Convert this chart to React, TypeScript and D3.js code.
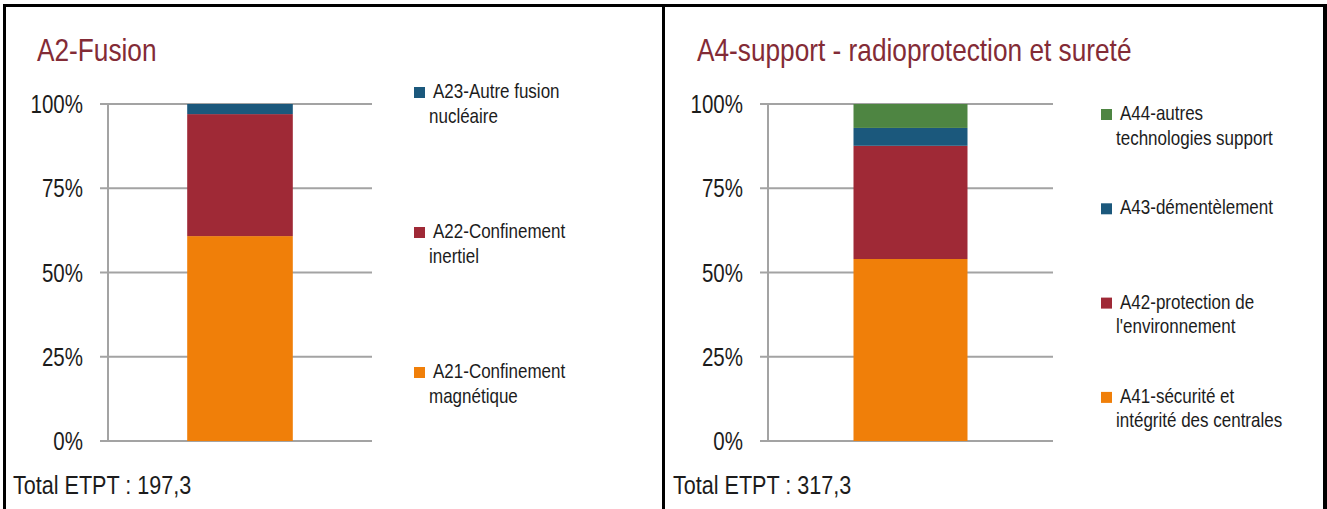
import React from "react";
import * as d3 from "d3";

// A2 - Fusion (shares of total ETPT, bottom to top)
const fusionKeys = ["A21", "A22", "A23"];
const fusionLabels = [
  ["A21-Confinement", "magnétique"],
  ["A22-Confinement", "inertiel"],
  ["A23-Autre fusion", "nucléaire"],
];
const fusionShares = [60.8, 36.2, 3.0];
const fusionTotal = "Total ETPT : 197,3";

// A4 - support
const supportKeys = ["A41", "A42", "A43", "A44"];
const supportLabels = [
  ["A41-sécurité et", "intégrité des centrales"],
  ["A42-protection de", "l'environnement"],
  ["A43-démentèlement"],
  ["A44-autres", "technologies support"],
];
const supportShares = [54.0, 33.6, 5.3, 7.1];
const supportTotal = "Total ETPT : 317,3";

const seriesColors = ["#F07F09", "#9F2936", "#1B587C", "#4E8542"];
const percentTicks = [0, 0.25, 0.5, 0.75, 1];

// no narrow font installed: squeeze Liberation Sans horizontally
const FONT = "'Liberation Sans', Arial, sans-serif";
const GRID = "#a3a3a3";
const INK = "#1c1c1c";

function NText(props: {
  x: number;
  y: number;
  size: number;
  squeeze?: number;
  fill?: string;
  anchor?: string;
  dy?: string;
  children: React.ReactNode;
}) {
  return (
    <text
      transform={`translate(${props.x},${props.y}) scale(${props.squeeze || 0.82},1)`}
      fontSize={props.size}
      fill={props.fill || INK}
      textAnchor={props.anchor || "start"}
      dy={props.dy}
    >
      {props.children}
    </text>
  );
}

type PanelProps = {
  title: string;
  keys: string[];
  labels: string[][];
  shares: number[];
  total: string;
  x0: number;
  plotLeft: number;
  plotRight: number;
  legendX: number;
  legendFirst: number;
  legendStep: number;
};

function Panel(p: PanelProps) {
  const y = d3.scaleLinear().domain([0, 1]).range([441, 104]);
  const x = d3
    .scaleBand<string>()
    .domain(["total"])
    .range([p.plotLeft, p.plotRight])
    .padding(0.6 / 1.4);

  const row: Record<string, number> = {};
  const sum = d3.sum(p.shares);
  p.keys.forEach((k, i) => (row[k] = p.shares[i] / sum));
  const stacked = d3.stack<Record<string, number>>().keys(p.keys)([row]);

  const legendOrder = p.keys.map((_, i) => i).reverse();

  return (
    <g fontFamily={FONT}>
      <NText x={p.x0 + 33} y={61} size={32} fill="#832b36">
        {p.title}
      </NText>

      {percentTicks.map((t) => (
        <g key={t}>
          <line x1={p.plotLeft - 8} x2={p.plotRight} y1={y(t)} y2={y(t)} stroke={GRID} strokeWidth={2} />
          <NText x={p.plotLeft - 25} y={y(t)} dy="0.36em" anchor="end" size={25}>
            {d3.format(".0%")(t)}
          </NText>
        </g>
      ))}
      <line x1={p.plotLeft} x2={p.plotLeft} y1={y(1)} y2={y(0) + 1} stroke={GRID} strokeWidth={2} />

      {stacked.map((s, i) => (
        <rect
          key={s.key}
          x={x("total")}
          width={x.bandwidth()}
          y={y(s[0][1])}
          height={y(s[0][0]) - y(s[0][1])}
          fill={seriesColors[i]}
        />
      ))}

      {legendOrder.map((idx, j) => {
        const base = p.legendFirst + j * p.legendStep;
        return (
          <g key={p.keys[idx]}>
            <rect x={p.legendX} y={base - 11} width={11} height={11} fill={seriesColors[idx]} />
            {p.labels[idx].map((line, li) => (
              <NText
                key={li}
                x={p.legendX + (li === 0 ? 19 : 15)}
                y={base + li * 24.5}
                size={20}
                squeeze={0.85}
              >
                {line}
              </NText>
            ))}
          </g>
        );
      })}

      <NText x={p.x0 + 9} y={494} size={26} squeeze={0.83}>
        {p.total}
      </NText>
    </g>
  );
}

export default function App() {
  return (
    <svg
      width={1327}
      height={509}
      style={{ position: "absolute", left: 0, top: 0, background: "#fff" }}
    >
      <rect width={1327} height={509} fill="#fff" />
      <Panel
        title="A2-Fusion"
        keys={fusionKeys}
        labels={fusionLabels}
        shares={fusionShares}
        total={fusionTotal}
        x0={4}
        plotLeft={108}
        plotRight={372}
        legendX={414}
        legendFirst={98}
        legendStep={140}
      />
      <Panel
        title="A4-support - radioprotection et sureté"
        keys={supportKeys}
        labels={supportLabels}
        shares={supportShares}
        total={supportTotal}
        x0={664}
        plotLeft={768}
        plotRight={1053}
        legendX={1101}
        legendFirst={120}
        legendStep={94.3}
      />
      {/* panel frames */}
      <line x1={3} x2={1327} y1={5.5} y2={5.5} stroke="#000" strokeWidth={3} />
      <line x1={4.5} x2={4.5} y1={4} y2={509} stroke="#000" strokeWidth={3} />
      <line x1={663.5} x2={663.5} y1={4} y2={509} stroke="#000" strokeWidth={3} />
      <line x1={1325} x2={1325} y1={4} y2={509} stroke="#000" strokeWidth={4} />
    </svg>
  );
}
